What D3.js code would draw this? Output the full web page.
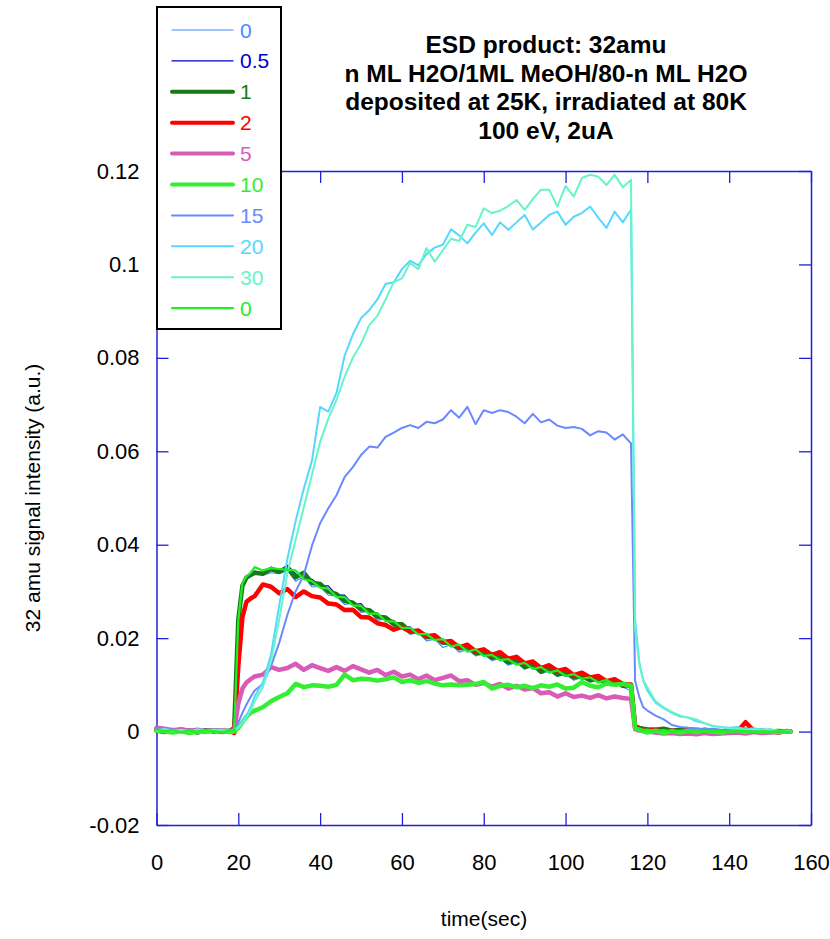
<html>
<head>
<script src="https://d3js.org/d3.v7.min.js"></script>
<style>
  body { margin: 0; background: white; }
  text { font-family: "Liberation Sans", Arial, sans-serif; }
</style>
</head>

<body>
  <script>
    const width = 830;
    const height = 939;

    // time axis (sec)
    const time = [
      0, 2, 4, 6, 8, 10, 12, 14, 16, 18,
      19, 20, 21, 22, 23, 24, 26, 28, 30, 32,
      34, 36, 38, 40, 42, 44, 46, 48, 50, 52,
      54, 56, 58, 60, 62, 64, 66, 68, 70, 72,
      74, 76, 78, 80, 82, 84, 86, 88, 90, 92,
      94, 96, 98, 100, 102, 104, 106, 108, 110, 112,
      114, 116, 117, 118, 119, 120, 122, 124, 126, 128,
      130, 132, 134, 136, 138, 140, 142, 144, 146, 148,
      150, 152, 154, 155
    ];

    // n = 0
    const s0 = [
      0.0008, 0.0004, 0.0007, 0.0002, 0.0006, 0.0003, 0.0005, 0.0001, 0.0004, 0.0003,
      0.0005, 0.0230, 0.0305, 0.0325, 0.0332, 0.0345, 0.0335, 0.0340, 0.0338, 0.0345,
      0.0322, 0.0332, 0.0310, 0.0310, 0.0292, 0.0290, 0.0272, 0.0275, 0.0255, 0.0258,
      0.0238, 0.0242, 0.0225, 0.0224, 0.0208, 0.0212, 0.0194, 0.0198, 0.0180, 0.0186,
      0.0170, 0.0176, 0.0162, 0.0166, 0.0152, 0.0157, 0.0142, 0.0148, 0.0134, 0.0140,
      0.0124, 0.0130, 0.0118, 0.0123, 0.0110, 0.0116, 0.0106, 0.0110, 0.0100, 0.0104,
      0.0095, 0.0088, 0.0010, 0.0007, 0.0005, 0.0006, 0.0003, 0.0005, 0.0004, 0.0002,
      0.0004, 0.0003, 0.0001, 0.0004, 0.0002, 0.0001, 0.0003, 0.0000, 0.0002, 0.0001,
      0.0002, 0.0000, 0.0001, 0.0000
    ];

    // n = 0.5
    const s05 = [
      0.0003, 0.0006, 0.0002, 0.0005, 0.0001, 0.0004, 0.0002, 0.0006, 0.0003, 0.0002,
      0.0006, 0.0235, 0.0310, 0.0328, 0.0338, 0.0342, 0.0340, 0.0352, 0.0345, 0.0356,
      0.0338, 0.0328, 0.0326, 0.0312, 0.0312, 0.0292, 0.0292, 0.0272, 0.0274, 0.0254,
      0.0254, 0.0238, 0.0238, 0.0224, 0.0224, 0.0208, 0.0210, 0.0196, 0.0196, 0.0182,
      0.0184, 0.0172, 0.0174, 0.0162, 0.0164, 0.0152, 0.0154, 0.0143, 0.0145, 0.0134,
      0.0136, 0.0126, 0.0128, 0.0118, 0.0122, 0.0112, 0.0116, 0.0106, 0.0109, 0.0100,
      0.0102, 0.0094, 0.0011, 0.0006, 0.0004, 0.0006, 0.0002, 0.0005, 0.0003, 0.0001,
      0.0003, 0.0002, 0.0000, 0.0003, 0.0001, 0.0002, 0.0004, 0.0001, 0.0003, 0.0000,
      0.0001, 0.0000, 0.0002, 0.0000
    ];

    // n = 1
    const s1 = [
      0.0005, 0.0003, 0.0000, 0.0004, 0.0002, -0.0002, 0.0003, 0.0000, 0.0002, 0.0001,
      0.0008, 0.0240, 0.0312, 0.0330, 0.0335, 0.0340, 0.0338, 0.0348, 0.0342, 0.0350,
      0.0330, 0.0340, 0.0318, 0.0316, 0.0300, 0.0294, 0.0280, 0.0276, 0.0262, 0.0260,
      0.0246, 0.0244, 0.0230, 0.0230, 0.0214, 0.0216, 0.0202, 0.0204, 0.0190, 0.0190,
      0.0178, 0.0182, 0.0168, 0.0170, 0.0158, 0.0162, 0.0148, 0.0154, 0.0138, 0.0145,
      0.0128, 0.0136, 0.0122, 0.0127, 0.0116, 0.0120, 0.0110, 0.0114, 0.0104, 0.0109,
      0.0098, 0.0100, 0.0012, 0.0008, 0.0006, 0.0005, 0.0004, 0.0006, 0.0002, 0.0004,
      0.0003, 0.0001, 0.0004, 0.0002, 0.0000, 0.0003, 0.0002, 0.0004, 0.0001, 0.0002,
      0.0000, 0.0001, 0.0000, 0.0000
    ];

    // n = 2
    const s2 = [
      0.0002, -0.0001, 0.0003, 0.0001, -0.0002, 0.0002, 0.0000, 0.0003, -0.0001, 0.0001,
      -0.0003, 0.0140, 0.0245, 0.0278, 0.0285, 0.0290, 0.0315, 0.0310, 0.0296, 0.0305,
      0.0288, 0.0300, 0.0290, 0.0287, 0.0274, 0.0272, 0.0260, 0.0261, 0.0245, 0.0244,
      0.0232, 0.0228, 0.0218, 0.0224, 0.0214, 0.0216, 0.0204, 0.0206, 0.0192, 0.0194,
      0.0180, 0.0186, 0.0172, 0.0176, 0.0164, 0.0170, 0.0156, 0.0160, 0.0146, 0.0150,
      0.0136, 0.0142, 0.0130, 0.0134, 0.0121, 0.0126, 0.0116, 0.0119, 0.0108, 0.0112,
      0.0102, 0.0100, 0.0010, 0.0005, 0.0003, 0.0001, 0.0004, -0.0002, 0.0002, 0.0000,
      0.0003, -0.0001, 0.0001, 0.0002, -0.0001, 0.0003, 0.0000, 0.0020, 0.0002, -0.0001,
      0.0001, -0.0002, 0.0001, 0.0000
    ];

    // n = 5
    const s5 = [
      0.0008, 0.0006, 0.0003, 0.0005, 0.0002, 0.0004, 0.0001, 0.0003, 0.0002, 0.0001,
      0.0003, 0.0060, 0.0092, 0.0105, 0.0112, 0.0118, 0.0122, 0.0138, 0.0132, 0.0136,
      0.0145, 0.0132, 0.0142, 0.0136, 0.0130, 0.0138, 0.0130, 0.0140, 0.0133, 0.0126,
      0.0132, 0.0121, 0.0128, 0.0118, 0.0122, 0.0112, 0.0120, 0.0110, 0.0115, 0.0120,
      0.0108, 0.0110, 0.0100, 0.0104, 0.0096, 0.0102, 0.0092, 0.0098, 0.0090, 0.0093,
      0.0082, 0.0084, 0.0075, 0.0082, 0.0074, 0.0077, 0.0072, 0.0078, 0.0071, 0.0075,
      0.0072, 0.0070, 0.0005, 0.0002, 0.0001, 0.0000, -0.0002, -0.0004, -0.0003, -0.0005,
      -0.0004, -0.0006, -0.0003, -0.0005, -0.0004, -0.0003, -0.0002, -0.0004, -0.0001, -0.0003,
      -0.0002, -0.0001, 0.0000, 0.0000
    ];

    // n = 10
    const s10 = [
      0.0002, 0.0000, -0.0002, 0.0001, -0.0003, 0.0000, -0.0001, 0.0002, 0.0000, -0.0001,
      0.0000, 0.0008, 0.0020, 0.0032, 0.0040, 0.0045, 0.0052, 0.0065, 0.0074, 0.0082,
      0.0102, 0.0095, 0.0099, 0.0098, 0.0096, 0.0100, 0.0122, 0.0110, 0.0113, 0.0112,
      0.0109, 0.0112, 0.0116, 0.0106, 0.0110, 0.0104, 0.0108, 0.0103, 0.0099, 0.0101,
      0.0099, 0.0100, 0.0102, 0.0106, 0.0092, 0.0098, 0.0100, 0.0095, 0.0098, 0.0093,
      0.0099, 0.0096, 0.0101, 0.0092, 0.0094, 0.0106, 0.0098, 0.0095, 0.0103, 0.0100,
      0.0102, 0.0098, 0.0008, 0.0004, 0.0001, -0.0002, 0.0002, -0.0003, 0.0001, -0.0002,
      0.0002, -0.0001, 0.0003, 0.0000, -0.0002, 0.0001, 0.0003, -0.0001, 0.0002, 0.0000,
      0.0001, -0.0001, 0.0000, 0.0000
    ];

    // n = 15
    const s15 = [
      0.0006, 0.0003, 0.0005, 0.0002, 0.0004, 0.0001, 0.0003, 0.0005, 0.0002, 0.0003,
      0.0005, 0.0020, 0.0040, 0.0058, 0.0074, 0.0088, 0.0102, 0.0140, 0.0190, 0.0250,
      0.0300, 0.0335, 0.0398, 0.0446, 0.0478, 0.0506, 0.0545, 0.0566, 0.0592, 0.0610,
      0.0608, 0.0631, 0.0640, 0.0650, 0.0656, 0.0650, 0.0663, 0.0660, 0.0668, 0.0688,
      0.0672, 0.0695, 0.0658, 0.0688, 0.0682, 0.0688, 0.0684, 0.0674, 0.0660, 0.0680,
      0.0662, 0.0668, 0.0655, 0.0650, 0.0652, 0.0648, 0.0634, 0.0643, 0.0640, 0.0625,
      0.0636, 0.0617, 0.0109, 0.0075, 0.0052, 0.0045, 0.0034, 0.0026, 0.0014, 0.0010,
      0.0008, 0.0007, 0.0005, 0.0006, 0.0004, 0.0003, 0.0005, 0.0002, 0.0003, 0.0001,
      0.0002, 0.0000, 0.0001, 0.0000
    ];

    // n = 20
    const s20 = [
      0.0003, 0.0006, 0.0002, 0.0004, 0.0001, 0.0005, 0.0003, 0.0002, 0.0004, 0.0001,
      0.0005, 0.0010, 0.0022, 0.0035, 0.0052, 0.0075, 0.0105, 0.0165, 0.0270, 0.0370,
      0.0450, 0.0520, 0.0580, 0.0695, 0.0685, 0.0725, 0.0805, 0.0850, 0.0885, 0.0902,
      0.0925, 0.0958, 0.0962, 0.0990, 0.1008, 0.0998, 0.1022, 0.1036, 0.1042, 0.1075,
      0.1062, 0.1045, 0.1068, 0.1088, 0.1063, 0.1090, 0.1074, 0.1090, 0.1106, 0.1075,
      0.1090, 0.1106, 0.1113, 0.1085, 0.1102, 0.1110, 0.1124, 0.1100, 0.1078, 0.1113,
      0.1090, 0.1117, 0.0240, 0.0150, 0.0108, 0.0088, 0.0062, 0.0050, 0.0040, 0.0032,
      0.0030, 0.0022, 0.0018, 0.0012, 0.0010, 0.0008, 0.0010, 0.0005, 0.0007, 0.0004,
      0.0005, 0.0002, 0.0001, 0.0000
    ];

    // n = 30
    const s30 = [
      0.0002, 0.0004, 0.0001, 0.0003, 0.0000, 0.0003, 0.0001, 0.0004, 0.0002, 0.0001,
      0.0003, 0.0008, 0.0018, 0.0030, 0.0045, 0.0065, 0.0095, 0.0150, 0.0240, 0.0340,
      0.0410, 0.0480, 0.0550, 0.0620, 0.0670, 0.0710, 0.0760, 0.0800, 0.0830, 0.0870,
      0.0890, 0.0925, 0.0962, 0.0970, 0.1003, 0.0990, 0.1035, 0.1006, 0.1030, 0.1055,
      0.1050, 0.1085, 0.1080, 0.1120, 0.1110, 0.1115, 0.1125, 0.1138, 0.1117, 0.1140,
      0.1160, 0.1160, 0.1124, 0.1168, 0.1145, 0.1185, 0.1192, 0.1188, 0.1170, 0.1192,
      0.1165, 0.1181, 0.0220, 0.0145, 0.0110, 0.0095, 0.0065, 0.0052, 0.0042, 0.0034,
      0.0030, 0.0026, 0.0018, 0.0012, 0.0009, 0.0007, 0.0006, 0.0004, 0.0005, 0.0003,
      0.0004, 0.0002, 0.0001, 0.0000
    ];

    // second n = 0 run
    const s0b = [
      0.0004, 0.0001, 0.0003, -0.0001, 0.0002, 0.0000, 0.0003, 0.0001, -0.0001, 0.0002,
      0.0003, 0.0238, 0.0318, 0.0332, 0.0340, 0.0352, 0.0345, 0.0350, 0.0348, 0.0346,
      0.0345, 0.0326, 0.0322, 0.0308, 0.0306, 0.0288, 0.0288, 0.0270, 0.0269, 0.0252,
      0.0253, 0.0236, 0.0236, 0.0222, 0.0222, 0.0208, 0.0209, 0.0196, 0.0198, 0.0182,
      0.0186, 0.0171, 0.0176, 0.0162, 0.0164, 0.0153, 0.0155, 0.0143, 0.0147, 0.0134,
      0.0138, 0.0126, 0.0131, 0.0119, 0.0123, 0.0113, 0.0116, 0.0105, 0.0111, 0.0100,
      0.0104, 0.0097, 0.0009, 0.0005, 0.0003, 0.0004, 0.0001, 0.0003, 0.0000, 0.0002,
      0.0001, 0.0003, 0.0000, 0.0002, 0.0001, 0.0000, 0.0002, 0.0001, 0.0000, 0.0001,
      0.0000, 0.0001, 0.0000, 0.0000
    ];

    const labels = ["0", "0.5", "1", "2", "5", "10", "15", "20", "30", "0"];
    const values = [s0, s05, s1, s2, s5, s10, s15, s20, s30, s0b];
    const xTicks = [0, 20, 40, 60, 80, 100, 120, 140, 160];
    const yTicks = [-0.02, 0, 0.02, 0.04, 0.06, 0.08, 0.1, 0.12];
    const titleLines = [
      "ESD product: 32amu",
      "n ML H2O/1ML MeOH/80-n ML H2O",
      "deposited at 25K, irradiated at 80K",
      "100 eV, 2uA"
    ];

    // line styles, same order as labels
    const colors = ["#3f8cff", "#0000cc", "#177a17", "#ff0000", "#d95bb8",
                    "#33ee33", "#6a88ff", "#55d8ff", "#66f5c8", "#22ee22"];
    const widths = [1.2, 1.2, 4.5, 4.5, 4.5, 4.5, 2, 2, 2, 2.2];

    const axisColor = "#2020d8";

    // adding svg
    const svg = d3.select("body")
              .append("svg")
              .attr("width", width)
              .attr("height", height);

    const x = d3.scaleLinear().domain([0, 160]).range([156.5, 811]);
    const y = d3.scaleLinear().domain([-0.02, 0.12]).range([825, 171]);

    // axes, ticks pointing inward
    const fmtY = d => String(+d.toFixed(2));

    const gBottom = svg.append("g")
            .attr("transform", `translate(0,${y(-0.02)})`)
            .call(d3.axisBottom(x).tickValues(xTicks).tickSizeInner(-12).tickSizeOuter(0).tickPadding(29));

    const gTop = svg.append("g")
            .attr("transform", `translate(0,${y(0.12)})`)
            .call(d3.axisTop(x).tickValues(xTicks).tickSizeInner(-12).tickSizeOuter(0).tickFormat(""));

    const gLeft = svg.append("g")
            .attr("transform", `translate(${x(0)},0)`)
            .call(d3.axisLeft(y).tickValues(yTicks).tickSizeInner(-12).tickSizeOuter(0).tickPadding(17).tickFormat(fmtY));

    const gRight = svg.append("g")
            .attr("transform", `translate(${x(160)},0)`)
            .call(d3.axisRight(y).tickValues(yTicks).tickSizeInner(-12).tickSizeOuter(0).tickFormat(""));

    [gBottom, gTop, gLeft, gRight].forEach(g => {
      g.selectAll("path.domain").attr("stroke", axisColor).attr("stroke-width", 1.5);
      g.selectAll(".tick line").attr("stroke", axisColor).attr("stroke-width", 1.3);
      g.selectAll(".tick text")
        .attr("fill", "black")
        .attr("font-size", 22)
        .attr("font-family", "Liberation Sans, Arial, sans-serif");
    });

    // axis titles
    svg.append("text")
            .attr("x", 484)
            .attr("y", 926)
            .attr("text-anchor", "middle")
            .attr("font-size", 21)
            .text("time(sec)");

    svg.append("text")
            .attr("transform", "translate(40,498) rotate(-90)")
            .attr("text-anchor", "middle")
            .attr("font-size", 21)
            .text("32 amu signal intensity (a.u.)");

    // adding lines
    const line = d3.line()
            .x((d, i) => x(time[i]))
            .y(d => y(d));

    values.forEach((vals, k) => {
      svg.append("path")
            .attr("d", line(vals))
            .attr("fill", "none")
            .attr("stroke", colors[k])
            .attr("stroke-width", widths[k])
            .attr("stroke-linejoin", "round")
            .attr("stroke-linecap", "round");
    });

    // legend box
    const legend = svg.append("g");
    legend.append("rect")
            .attr("x", 157)
            .attr("y", 7)
            .attr("width", 124)
            .attr("height", 322)
            .attr("fill", "white")
            .attr("stroke", "black")
            .attr("stroke-width", 2);

    labels.forEach((lab, k) => {
      const yy = 30 + k * 30.9;
      legend.append("line")
            .attr("x1", 172)
            .attr("x2", 233)
            .attr("y1", yy)
            .attr("y2", yy)
            .attr("stroke", colors[k])
            .attr("stroke-width", Math.min(widths[k], 4))
            .attr("stroke-linecap", "round");
      legend.append("text")
            .attr("x", 240)
            .attr("y", yy + 7.5)
            .attr("font-size", 21)
            .attr("fill", colors[k])
            .text(lab);
    });

    // title
    titleLines.forEach((t, i) => {
      svg.append("text")
            .attr("x", 546)
            .attr("y", 53 + i * 28.7)
            .attr("text-anchor", "middle")
            .attr("font-size", 24.5)
            .attr("font-weight", "bold")
            .text(t);
    });

  </script>
</body>
</html>
